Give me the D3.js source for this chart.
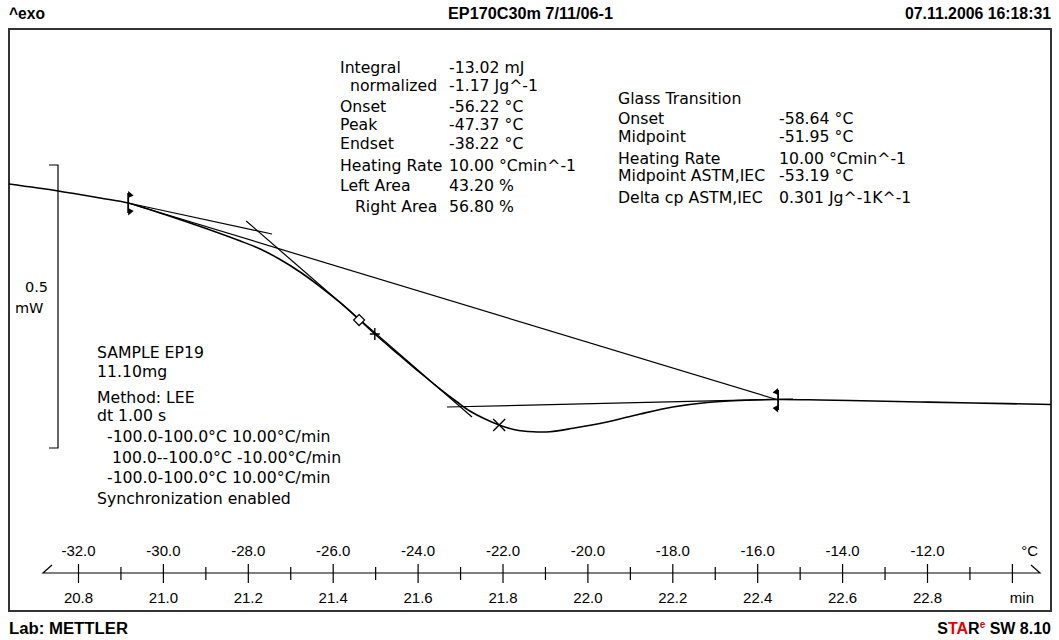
<!DOCTYPE html>
<html><head><meta charset="utf-8">
<script src="https://cdn.jsdelivr.net/npm/d3@7"></script>
<style>
body{margin:0;background:#fff}
svg text{white-space:pre}
</style>
</head><body>
<svg id="chart" width="1059" height="640"></svg>
<script>
// ---------- data ----------
const tempTicks = [-32,-30,-28,-26,-24,-22,-20,-18,-16,-14,-12];
const timeTicks = [20.8,21.0,21.2,21.4,21.6,21.8,22.0,22.2,22.4,22.6,22.8];
const minorTempTicks = [-31,-29,-27,-25,-23,-21,-19,-17,-15,-13,-11];
const unitTempTick = -10;

// DSC heat flow curve: temperature (°C) and heat flow (mW, relative)
const curveTemp = [-33.64,-32.48,-31.49,-30.83,-30.08,-29.37,-28.78,-28.20,-27.72,-27.25,-26.78,-26.31,-25.84,-25.39,-25.02,-24.43,-23.96,-23.48,-23.08,-22.78,-22.42,-22.09,-21.72,-21.29,-20.89,-20.35,-19.55,-18.77,-18.00,-17.19,-16.42,-15.52,-14.53,-13.28,-12.18,-10.93,-9.09];
const curveHF = [-0.0336,-0.0459,-0.0583,-0.0671,-0.0848,-0.1025,-0.1179,-0.1339,-0.1484,-0.1670,-0.1890,-0.2147,-0.2429,-0.2730,-0.2986,-0.3366,-0.3666,-0.3958,-0.4187,-0.4346,-0.4488,-0.4594,-0.4678,-0.4714,-0.4712,-0.4652,-0.4541,-0.4399,-0.4276,-0.4196,-0.4161,-0.4143,-0.4152,-0.4170,-0.4187,-0.4205,-0.4231];

// evaluation construction lines [T1, HF1, T2, HF2]
const integrationBaseline = [-30.83,-0.0671,-15.52,-0.4152];
const preTangent = [-30.83,-0.0671,-27.44,-0.1219];
const inflectionTangent = [-28.05,-0.0989,-22.73,-0.4452];
const postTangent = [-23.32,-0.4276,-15.17,-0.4134];

// markers [T, HF]
const leftLimit = [-30.83,-0.0671];
const rightLimit = [-15.52,-0.4152];
const midpointMark = [-25.39,-0.2739];
const astmMark = [-25.02,-0.2986];
const peakMark = [-22.09,-0.4594];

const scaleBarHF = [0,-0.5];

const integrationLabels = ["Integral","  normalized","Onset","Peak","Endset","Heating Rate","Left Area","   Right Area"];
const integrationValues = ["-13.02 mJ","-1.17 Jg^-1","-56.22 °C","-47.37 °C","-38.22 °C","10.00 °Cmin^-1","43.20 %","56.80 %"];
const glassLabels = ["Glass Transition","Onset","Midpoint","Heating Rate","Midpoint ASTM,IEC","Delta cp ASTM,IEC"];
const glassValues = ["","-58.64 °C","-51.95 °C","10.00 °Cmin^-1","-53.19 °C","0.301 Jg^-1K^-1"];
const sampleLines = ["SAMPLE EP19","11.10mg","Method: LEE","dt 1.00 s","  -100.0-100.0°C 10.00°C/min","   100.0--100.0°C -10.00°C/min","  -100.0-100.0°C 10.00°C/min","Synchronization enabled"];

// ---------- drawing ----------
const svg = d3.select("#chart");
const bodyFont = "'DejaVu Sans', Verdana, sans-serif";
const bodySize = 15.7;
const axisFont = "'Liberation Sans', Arial, sans-serif";
const headFont = "'Liberation Sans Narrow', 'Arial Narrow', 'Liberation Sans', sans-serif";

const x = d3.scaleLinear().domain([-32,-12]).range([78.5,927.5]);
const xt = d3.scaleLinear().domain([20.8,22.8]).range([78.5,927.5]);
const y = d3.scaleLinear().domain([0,-0.5]).range([165,448]);

// header
svg.append("text").attr("x",9).attr("y",19).attr("font-family",headFont).attr("font-weight","bold")
  .attr("font-size",16).attr("textLength",36).attr("lengthAdjust","spacingAndGlyphs").text("^exo");
svg.append("text").attr("x",448).attr("y",19).attr("font-family",headFont).attr("font-weight","bold")
  .attr("font-size",16).attr("textLength",165).attr("lengthAdjust","spacingAndGlyphs").text("EP170C30m 7/11/06-1");
svg.append("text").attr("x",905).attr("y",19).attr("font-family",headFont).attr("font-weight","bold")
  .attr("font-size",16).attr("textLength",146).attr("lengthAdjust","spacingAndGlyphs").text("07.11.2006 16:18:31");

// frame
svg.append("rect").attr("x",9).attr("y",29).attr("width",1042).attr("height",582)
  .attr("fill","none").attr("stroke","#333").attr("stroke-width",2);

// footer
svg.append("text").attr("x",9).attr("y",634).attr("font-family",headFont).attr("font-weight","bold")
  .attr("font-size",16).attr("textLength",119).attr("lengthAdjust","spacingAndGlyphs").text("Lab: METTLER");
const star = svg.append("text").attr("x",1051).attr("y",634).attr("text-anchor","end")
  .attr("font-family",headFont).attr("font-weight","bold").attr("font-size",16);
[["S","#000"],["TA","#e60000"],["R","#000"]].forEach(([t,c])=>star.append("tspan").attr("fill",c).text(t));
star.append("tspan").attr("fill","#e60000").attr("font-size",10).attr("dy",-6).text("e");
star.append("tspan").attr("fill","#000").attr("dy",6).text(" SW 8.10");

// scale bar
const sbx = 58;
svg.append("path").attr("fill","none").attr("stroke","#000").attr("stroke-width",1.2)
  .attr("d",`M${sbx-9},${y(scaleBarHF[0])}H${sbx}V${y(scaleBarHF[1])}H${sbx-9}`);
svg.append("text").attr("x",25).attr("y",292).attr("font-family",bodyFont).attr("font-size",14.5).text("0.5");
svg.append("text").attr("x",15).attr("y",313).attr("font-family",bodyFont).attr("font-size",14.5).text("mW");

// construction lines
const lines = [integrationBaseline, preTangent, inflectionTangent, postTangent];
svg.selectAll("line.cons").data(lines).join("line").attr("class","cons")
  .attr("x1",d=>x(d[0])).attr("y1",d=>y(d[1])).attr("x2",d=>x(d[2])).attr("y2",d=>y(d[3]))
  .attr("stroke","#000").attr("stroke-width",1.2);

// curve
const pts = curveTemp.map((t,i)=>[t,curveHF[i]]);
svg.append("path").datum(pts).attr("fill","none").attr("stroke","#000").attr("stroke-width",1.6)
  .attr("d",d3.line().x(d=>x(d[0])).y(d=>y(d[1])).curve(d3.curveCatmullRom.alpha(0.5)));

// limit markers
function limitMarker(p, dir){
  const cx = x(p[0]), cy = y(p[1]);
  const g = svg.append("g");
  g.append("line").attr("x1",cx).attr("x2",cx).attr("y1",cy-10).attr("y2",cy+10).attr("stroke","#000").attr("stroke-width",1.8);
  g.append("path").attr("fill","#000")
    .attr("d",`M${cx},${cy-12}L${cx+5.5*dir},${cy-7.5}L${cx},${cy-5}Z M${cx},${cy+5}L${cx+5.5*dir},${cy+8}L${cx},${cy+12.5}Z`);
}
limitMarker(leftLimit, 1);
limitMarker(rightLimit, -1);

// diamond
{
  const cx=x(midpointMark[0]), cy=y(midpointMark[1]);
  svg.append("path").attr("fill","#fff").attr("stroke","#000").attr("stroke-width",1.2)
    .attr("d",`M${cx},${cy-5.5}L${cx+5.5},${cy}L${cx},${cy+5.5}L${cx-5.5},${cy}Z`);
}
// plus
{
  const cx=x(astmMark[0]), cy=y(astmMark[1]);
  svg.append("path").attr("stroke","#000").attr("stroke-width",1.4)
    .attr("d",`M${cx-5},${cy}H${cx+5}M${cx},${cy-6}V${cy+6}`);
}
// cross
{
  const cx=x(peakMark[0]), cy=y(peakMark[1]);
  svg.append("path").attr("stroke","#000").attr("stroke-width",1.4)
    .attr("d",`M${cx-6},${cy-6}L${cx+6},${cy+6}M${cx-6},${cy+6}L${cx+6},${cy-6}`);
}

// text blocks
const intBase = [73,91,112,130,149,171,191,212];
integrationLabels.forEach((t,i)=>{
  svg.append("text").attr("x",340).attr("y",intBase[i]).attr("font-family",bodyFont).attr("font-size",bodySize).text(t);
  svg.append("text").attr("x",449).attr("y",intBase[i]).attr("font-family",bodyFont).attr("font-size",bodySize).text(integrationValues[i]);
});
const glassBase = [104,124,142,164,181,203];
glassLabels.forEach((t,i)=>{
  svg.append("text").attr("x",618).attr("y",glassBase[i]).attr("font-family",bodyFont).attr("font-size",bodySize).text(t);
  svg.append("text").attr("x",779).attr("y",glassBase[i]).attr("font-family",bodyFont).attr("font-size",bodySize).text(glassValues[i]);
});
const sampleBase = [358,377,403,421,442,463,483,504];
sampleLines.forEach((t,i)=>{
  svg.append("text").attr("x",97).attr("y",sampleBase[i]).attr("font-family",bodyFont).attr("font-size",bodySize).text(t);
});

// bottom axis
const axY = 573;
svg.append("path").attr("fill","none").attr("stroke","#000").attr("stroke-width",1.2)
  .attr("d",`M52,${axY-8}L43,${axY}H1040L1031,${axY-8}`);
const majors = tempTicks.concat([unitTempTick]);
svg.selectAll("line.maj").data(majors).join("line").attr("class","maj")
  .attr("x1",d=>x(d)).attr("x2",d=>x(d)).attr("y1",axY-9).attr("y2",axY+10).attr("stroke","#000").attr("stroke-width",1.2);
svg.selectAll("line.min").data(minorTempTicks).join("line").attr("class","min")
  .attr("x1",d=>x(d)).attr("x2",d=>x(d)).attr("y1",axY-6).attr("y2",axY+7).attr("stroke","#000").attr("stroke-width",1.2);
svg.selectAll("text.tl").data(tempTicks).join("text").attr("class","tl")
  .attr("x",d=>x(d)).attr("y",556).attr("text-anchor","middle").attr("font-family",axisFont).attr("font-size",15)
  .text(d=>d3.format(".1f")(d).replace("−","-"));
svg.selectAll("text.ml").data(timeTicks).join("text").attr("class","ml")
  .attr("x",d=>xt(d)).attr("y",603).attr("text-anchor","middle").attr("font-family",axisFont).attr("font-size",15)
  .text(d=>d3.format(".1f")(d));
svg.append("text").attr("x",1038).attr("y",556).attr("text-anchor","end").attr("font-family",axisFont).attr("font-size",15).text("°C");
svg.append("text").attr("x",1034).attr("y",603).attr("text-anchor","end").attr("font-family",axisFont).attr("font-size",15).text("min");
</script>
</body></html>
